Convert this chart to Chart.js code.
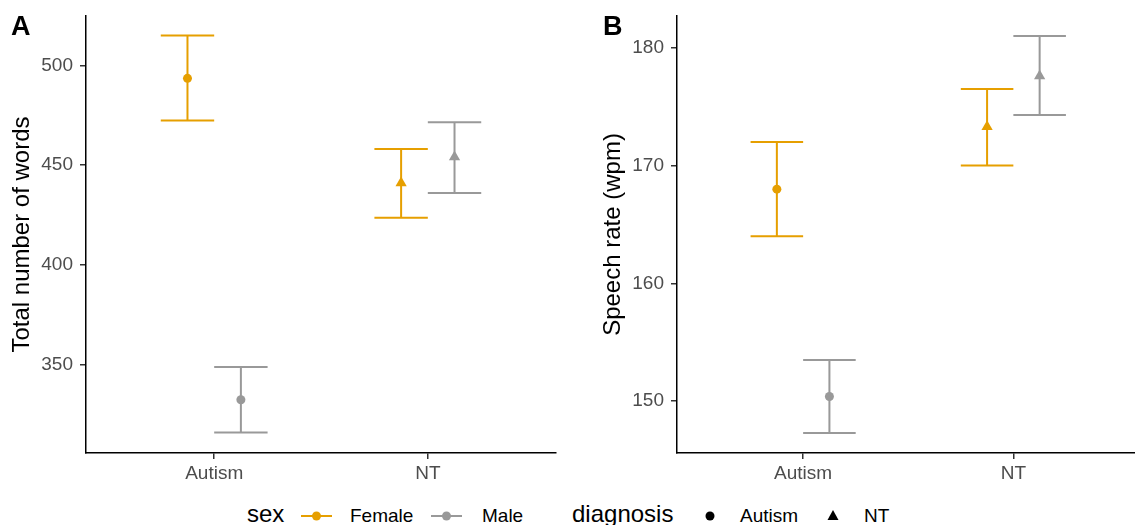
<!DOCTYPE html>
<html>
<head>
<meta charset="utf-8">
<script src="https://cdn.jsdelivr.net/npm/chart.js@4.4.1/dist/chart.umd.min.js"></script>
<style>
html, body { margin: 0; padding: 0; background: #fff; overflow: hidden; width: 1135px; height: 525px; }
body { position: relative; font-family: "Liberation Sans", Arial, sans-serif; }
canvas { position: absolute; top: 0; }
#chartA { left: 0; }
#chartB { left: 591px; }
.tag { position: absolute; font-weight: bold; font-size: 27px; line-height: 27px; top: 13px; color: #000; }
.lg { position: absolute; white-space: nowrap; color: #000; }
.lgTitle { font-size: 24px; line-height: 24px; top: 502px; }
.lgText { font-size: 19px; line-height: 19px; top: 506px; }
.lgIcon { position: absolute; top: 506px; }
</style>
</head>
<body>
<canvas id="chartA" width="565" height="492"></canvas>
<canvas id="chartB" width="555" height="492"></canvas>
<div class="tag" style="left:11px">A</div>
<div class="tag" style="left:603px">B</div>

<!-- legend -->
<div class="lg lgTitle" style="left:247px">sex</div>
<svg class="lgIcon" style="left:301px" width="31" height="20"><line x1="0" y1="10" x2="31" y2="10" stroke="#E69F00" stroke-width="2"/><circle cx="15.5" cy="10" r="4.5" fill="#E69F00"/></svg>
<div class="lg lgText" style="left:350px">Female</div>
<svg class="lgIcon" style="left:431px" width="31" height="20"><line x1="0" y1="10" x2="31" y2="10" stroke="#999999" stroke-width="2"/><circle cx="15.5" cy="10" r="4.5" fill="#999999"/></svg>
<div class="lg lgText" style="left:482px">Male</div>
<div class="lg lgTitle" style="left:572px">diagnosis</div>
<svg class="lgIcon" style="left:700px" width="20" height="20"><circle cx="10" cy="10" r="4.5" fill="#000"/></svg>
<div class="lg lgText" style="left:740px">Autism</div>
<svg class="lgIcon" style="left:823px" width="20" height="20"><polygon points="10,4 15.5,14 4.5,14" fill="#000"/></svg>
<div class="lg lgText" style="left:864px">NT</div>

<script>
// categories
const diagnoses = ['Autism', 'NT'];

// panel A: total number of words (mean, lower, upper) per diagnosis
const wordsFemaleMean = [493.5, 441];
const wordsFemaleLow = [472.3, 423.5];
const wordsFemaleHigh = [515, 458];
const wordsMaleMean = [332.2, 454];
const wordsMaleLow = [315.8, 436];
const wordsMaleHigh = [348.7, 471.5];
const wordsTicks = [350, 400, 450, 500];

// panel B: speech rate (wpm)
const rateFemaleMean = [168.0, 173.3];
const rateFemaleLow = [164.0, 170.0];
const rateFemaleHigh = [172.0, 176.5];
const rateMaleMean = [150.4, 177.6];
const rateMaleLow = [147.3, 174.3];
const rateMaleHigh = [153.5, 181.0];
const rateTicks = [150, 160, 170, 180];

const ORANGE = '#E69F00';
const GREY = '#999999';
const DODGE = 0.125;
const CAP = 0.125;

Chart.defaults.font.family = '"Liberation Sans", Arial, sans-serif';

// draws the whiskers + caps under the points
const errorBars = {
    id: 'errorBars',
    beforeDatasetsDraw(chart) {
        const ctx = chart.ctx;
        const x = chart.scales.x, y = chart.scales.y;
        chart.data.datasets.forEach(ds => {
            ctx.save();
            ctx.strokeStyle = ds.backgroundColor;
            ctx.lineWidth = 2;
            ds.data.forEach(pt => {
                const px = x.getPixelForValue(pt.x);
                const l = x.getPixelForValue(pt.x - CAP), r = x.getPixelForValue(pt.x + CAP);
                const top = y.getPixelForValue(pt.high), bot = y.getPixelForValue(pt.low);
                ctx.beginPath();
                ctx.moveTo(px, top); ctx.lineTo(px, bot);
                ctx.moveTo(l, top); ctx.lineTo(r, top);
                ctx.moveTo(l, bot); ctx.lineTo(r, bot);
                ctx.stroke();
            });
            ctx.restore();
        });
    }
};

function points(mean, low, high, shift) {
    return mean.map((m, i) => ({ x: i + 1 + shift, y: m, low: low[i], high: high[i] }));
}

function makeChart(id, title, yMin, yMax, ticks, female, male) {
    const series = (label, data, color) => ({
        label: label,
        data: data,
        backgroundColor: color,
        borderWidth: 0,
        pointStyle: ['circle', 'triangle'],
        pointRadius: [4.5, 6.5]
    });
    return new Chart(document.getElementById(id), {
        type: 'scatter',
        data: {
            datasets: [
                series('Female', female, ORANGE),
                series('Male', male, GREY)
            ]
        },
        options: {
            responsive: false,
            animation: false,
            devicePixelRatio: 1,
            layout: { padding: { top: 16, right: id === 'chartA' ? 9 : 0, left: 0, bottom: 0 } },
            plugins: { legend: { display: false }, tooltip: { enabled: false } },
            scales: {
                x: {
                    type: 'linear',
                    min: 0.4,
                    max: 2.6,
                    afterBuildTicks: axis => { axis.ticks = diagnoses.map((d, i) => ({ value: i + 1 })); },
                    afterFit: axis => { axis.height = 39; axis.paddingLeft = 0; axis.paddingRight = 0; },
                    ticks: {
                        callback: v => diagnoses[v - 1] || '',
                        color: '#4D4D4D',
                        font: { size: 19 },
                        padding: 3,
                        maxRotation: 0
                    },
                    grid: { drawOnChartArea: false, drawTicks: true, tickLength: 6, color: '#333333', lineWidth: 1.5 },
                    border: { display: true, color: '#000', width: 1.5 }
                },
                y: {
                    min: yMin,
                    max: yMax,
                    afterBuildTicks: axis => { axis.ticks = ticks.map(v => ({ value: v })); },
                    afterFit: axis => { axis.width = 86; axis.paddingTop = 0; axis.paddingBottom = 0; },
                    ticks: { color: '#4D4D4D', font: { size: 19 }, padding: 7 },
                    grid: { drawOnChartArea: false, drawTicks: true, tickLength: 6, color: '#333333', lineWidth: 1.5 },
                    border: { display: true, color: '#000', width: 1.5 },
                    title: { display: true, text: title, color: '#000', font: { size: 24 }, padding: { top: 8, bottom: 0 } }
                }
            }
        },
        plugins: [errorBars]
    });
}

makeChart('chartA', 'Total number of words', 305.5, 524.8, wordsTicks,
    points(wordsFemaleMean, wordsFemaleLow, wordsFemaleHigh, -DODGE),
    points(wordsMaleMean, wordsMaleLow, wordsMaleHigh, DODGE));

makeChart('chartB', 'Speech rate (wpm)', 145.6, 182.7, rateTicks,
    points(rateFemaleMean, rateFemaleLow, rateFemaleHigh, -DODGE),
    points(rateMaleMean, rateMaleLow, rateMaleHigh, DODGE));
</script>
</body>
</html>
